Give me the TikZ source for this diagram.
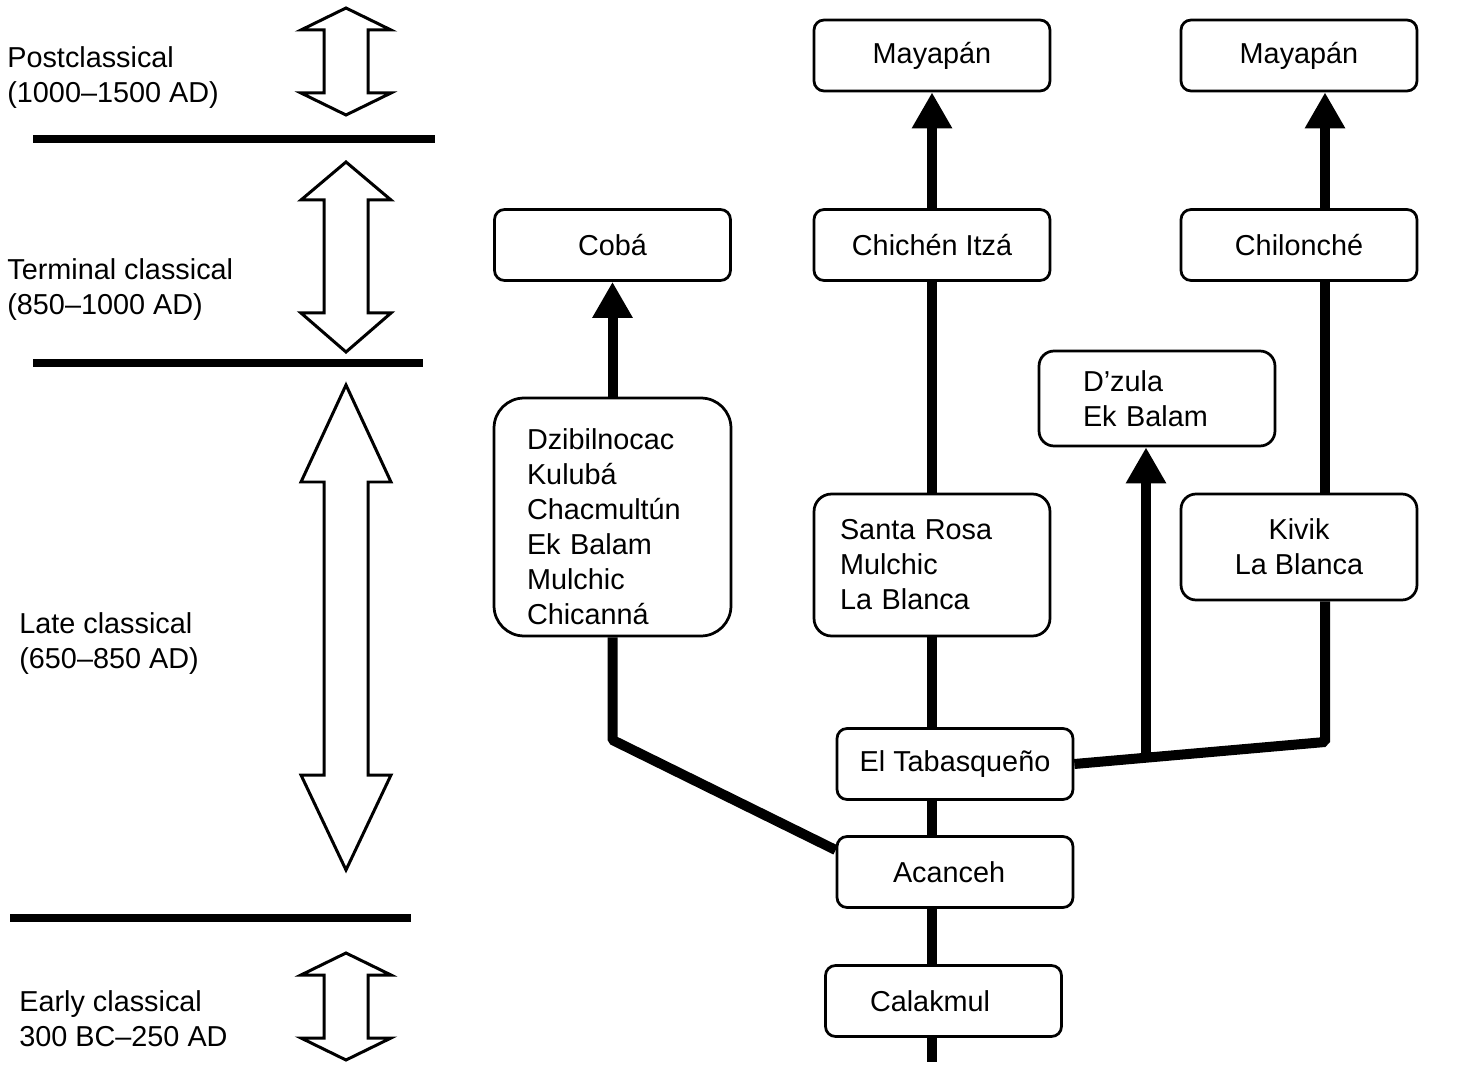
\documentclass[tikz,border=0pt]{standalone}
\usepackage{fontspec}
\setmainfont{Liberation Sans}
\usetikzlibrary{positioning, calc, arrows.meta}

\begin{document}
\begin{tikzpicture}[
    x=0.02cm, y=-0.02cm,
    font=\fontsize{16.4}{19.9}\selectfont,
    site/.style={rectangle, rounded corners=0.2cm, draw=black, line width=0.055cm, fill=white, minimum width=4.72cm, minimum height=1.42cm, align=center, inner sep=2pt},
    sitelist/.style={site, align=left},
    era/.style={anchor=west, align=left, inner sep=0pt},
    link/.style={line width=0.2cm, line join=bevel},
    linkarr/.style={link, -{Triangle[length=0.72cm, width=0.76cm]}},
    rule/.style={line width=0.16cm},
    span/.style={draw=black, line width=0.06cm, fill=white, line join=miter}
]
\useasboundingbox (0,0) rectangle (1464,1074);

\foreach \ta/\sa/\sb/\tb in {8/30/93/115, 162/200/313/352, 385/482/775/870, 953/975/1038/1060} {
    \draw[span] (346,\ta) -- (391,\sa) -- (368,\sa) -- (368,\sb) -- (391,\sb)
        -- (346,\tb) -- (301,\sb) -- (324,\sb) -- (324,\sa) -- (301,\sa) -- cycle;
}

\draw[rule] (33,139) -- (435,139);
\draw[rule] (33,363) -- (423,363);
\draw[rule] (10,918) -- (411,918);

\node[era] (post) at (7,78) {Postclassical\\(1000–1500 AD)};
\node[era] (terminal) at (7,290) {Terminal classical\\(850–1000 AD)};
\node[era] (late) at (19,644) {Late classical\\(650–850 AD)};
\node[era] (early) at (19,1019) {Early classical\\300 BC–250 AD};

\node[site] (mayapanA) at (932,55.5) {Mayapán};
\node[site] (mayapanB) at (1299,55.5) {Mayapán};
\node[site] (coba) at (612.5,245) {Cobá};
\node[site] (chichen) at (932,245) {Chichén Itzá};
\node[site] (chilonche) at (1299,245) {Chilonché};
\node[sitelist, minimum height=1.9cm, text width=2.96cm, inner xsep=0.88cm, rounded corners=0.3cm]
    (dzula) at (1157,398.5) {D’zula\\Ek Balam};
\node[sitelist, minimum height=4.76cm, text width=3.42cm, inner xsep=0.66cm, rounded corners=0.6cm]
    (dzibil) at (612.5,517) {\rule{0pt}{0.82cm}Dzibilnocac\\Kulubá\\Chacmultún\\Ek Balam\\Mulchic\\Chicanná};
\node[sitelist, minimum height=2.84cm, text width=3.68cm, inner xsep=0.52cm, rounded corners=0.35cm]
    (santarosa) at (932,565) {Santa Rosa\\Mulchic\\La Blanca};
\node[site, minimum height=2.12cm, rounded corners=0.3cm] (kivik) at (1299,547) {Kivik\\La Blanca};
\node[site] (tabasqueno) at (955,764) {El Tabasqueño};
\node[sitelist, text width=2.48cm, inner xsep=1.12cm] (acanceh) at (955,872) {Acanceh};
\node[sitelist, text width=2.94cm, inner xsep=0.88cm] (calakmul) at (943.5,1001) {Calakmul};

\coordinate (trunkEnd) at (932,1062);
\coordinate (cobaBend) at (612.5,740);
\coordinate (eastEnd) at (1325,742);
\coordinate (dzulaFoot) at (1146,758);

\draw[linkarr] (chichen.north) -- (mayapanA.south);
\draw[link] (santarosa.north) -- (chichen.south);
\draw[link] (santarosa.south) -- (santarosa.south |- tabasqueno.north);
\draw[link] (tabasqueno.south -| santarosa.south) -- (acanceh.north -| santarosa.south);
\draw[link] (acanceh.south -| santarosa.south) -- (calakmul.north -| santarosa.south);
\draw[link] (calakmul.south -| santarosa.south) -- (trunkEnd);

\draw[link] (dzibil.south) -- (cobaBend) -- ([yshift=0.44cm]acanceh.west);
\draw[linkarr] (dzibil.north) -- (coba.south);

\draw[link] (tabasqueno.east) -- (eastEnd) -- (eastEnd |- kivik.south);
\draw[linkarr] (dzulaFoot) -- (dzulaFoot |- dzula.south);
\draw[link] (eastEnd |- kivik.north) -- (eastEnd |- chilonche.south);
\draw[linkarr] (eastEnd |- chilonche.north) -- (eastEnd |- mayapanB.south);
\end{tikzpicture}
\end{document}
